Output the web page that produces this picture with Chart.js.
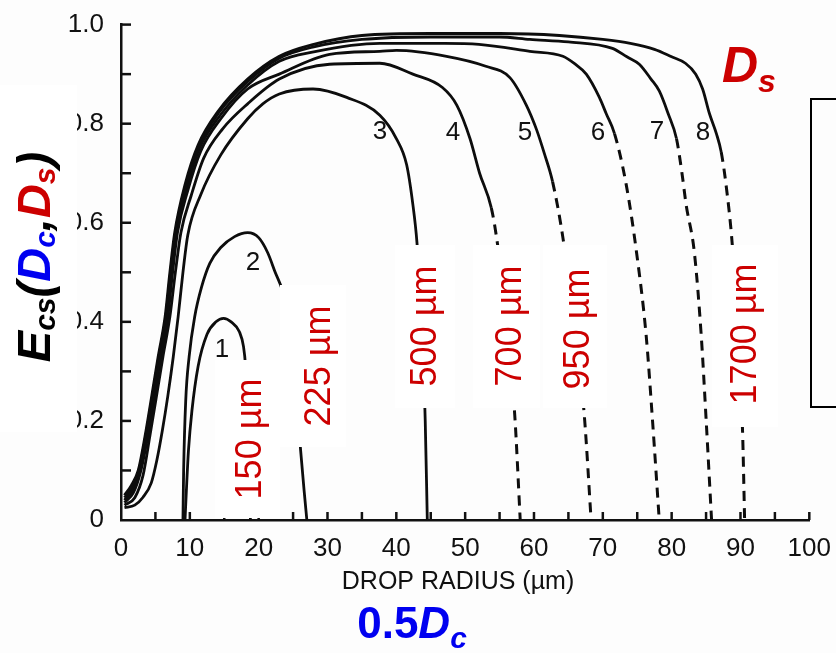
<!DOCTYPE html>
<html>
<head>
<meta charset="utf-8">
<script src="https://cdn.jsdelivr.net/npm/chart.js@4.4.1/dist/chart.umd.min.js"></script>
<style>
  body { margin: 0; background: #fff; }
  canvas { display: block; }
</style>
</head>
<body>
<canvas id="effChart" width="836" height="653"></canvas>
<script>
// collection efficiency vs drop radius, one curve per collector size
const curve1 = [[9.3,0],[9.5,0.06],[9.8,0.14],[10.3,0.22],[11.2,0.31],[12.5,0.375],[13.8,0.4],[14.9,0.407],[16,0.4],[17.2,0.38],[17.8,0.35],[18.1,0.31],[18.5,0.2],[18.8,0]];
const curve2 = [[9.0,0],[9.1,0.1],[9.4,0.24],[9.9,0.33],[10.7,0.41],[11.7,0.47],[12.9,0.518],[14.5,0.55],[16.5,0.572],[18.4,0.58],[20,0.57],[21.3,0.54],[22.4,0.5],[23.5,0.46],[24.5,0.38],[25.4,0.26],[26.1,0.14],[26.6,0.06],[27,0]];
const curve3 = [[0.5,0.025],[2,0.03],[3.2,0.046],[4.4,0.075],[5.2,0.12],[6,0.18],[6.8,0.25],[7.6,0.33],[8.3,0.41],[9,0.5],[9.7,0.575],[11.6,0.657],[14.5,0.737],[18.4,0.81],[20.6,0.84],[23,0.86],[27.9,0.87],[32.8,0.853],[37.6,0.817],[40,0.77],[41.5,0.717],[42.4,0.637],[43,0.56],[43.7,0.4],[44.2,0.2],[44.5,0]];
const curve4 = [[0.5,0.03],[2,0.045],[3.2,0.09],[4.2,0.17],[5.1,0.245],[6.1,0.33],[7.1,0.41],[7.9,0.5],[8.7,0.58],[10.2,0.655],[12,0.73],[14.8,0.79],[18.4,0.84],[23,0.89],[30.3,0.92],[37.6,0.922],[42.4,0.9],[46.7,0.873],[48.8,0.837],[50.7,0.77],[52.1,0.7],[53.8,0.63],[54.7,0.557],[56,0.4],[57.2,0.213],[58,0]];
const curve5 = [[0.5,0.035],[1.8,0.055],[2.9,0.1],[3.9,0.17],[4.8,0.245],[5.8,0.33],[6.8,0.41],[7.5,0.5],[8.2,0.58],[9.7,0.665],[11.6,0.745],[14.5,0.81],[18.4,0.87],[23,0.9],[30.3,0.94],[37.6,0.946],[40,0.948],[47.3,0.936],[53,0.916],[56.5,0.893],[58.9,0.837],[60.4,0.787],[61.5,0.74],[62.7,0.683],[64.2,0.57],[65.8,0.4],[67.3,0.213],[68.3,0]];
const curve6 = [[0.5,0.04],[1.7,0.06],[2.7,0.1],[3.7,0.17],[4.6,0.245],[5.6,0.33],[6.6,0.41],[7.3,0.5],[8,0.58],[9.5,0.67],[11.4,0.75],[14.3,0.815],[18.4,0.878],[23,0.926],[28,0.945],[37.6,0.962],[47,0.962],[52,0.96],[59.4,0.946],[64.2,0.936],[66,0.92],[67.6,0.9],[69.5,0.853],[70.5,0.82],[71.7,0.78],[73.4,0.677],[74.9,0.54],[76.3,0.372],[77.2,0.205],[78.2,0]];
const curve7 = [[0.5,0.045],[1.6,0.065],[2.6,0.1],[3.6,0.17],[4.5,0.245],[5.5,0.33],[6.5,0.41],[7.2,0.5],[7.9,0.58],[9.4,0.675],[11.3,0.755],[14.2,0.822],[18.4,0.885],[23,0.932],[28,0.955],[35,0.97],[45,0.975],[55,0.975],[59.4,0.97],[65,0.965],[71.4,0.952],[73.5,0.935],[75.3,0.92],[77,0.89],[78.2,0.866],[79.5,0.82],[80.7,0.77],[81.5,0.7],[82.1,0.637],[83.3,0.54],[84.3,0.372],[85,0.205],[85.8,0]];
const curve8 = [[0.5,0.05],[1.5,0.07],[2.5,0.1],[3.5,0.17],[4.4,0.245],[5.4,0.33],[6.4,0.41],[7.1,0.5],[7.8,0.58],[9.3,0.677],[11.2,0.757],[14.1,0.825],[18.4,0.89],[23,0.936],[28,0.96],[35,0.978],[45,0.982],[55,0.982],[63.7,0.978],[70,0.97],[74,0.962],[77.5,0.95],[80,0.935],[82,0.922],[83.5,0.9],[84.5,0.87],[85.5,0.82],[86.5,0.78],[87.2,0.743],[87.9,0.677],[88.8,0.557],[89.6,0.38],[90.3,0.18],[90.6,0]];

const curveNames = ['1','2','3','4','5','6','7','8'];
const collectorSizes = ['150 µm','225 µm','500 µm','700 µm','950 µm','1700 µm'];
// radius where each curve turns dashed (null = solid all the way)
const dashFrom = [null, null, null, 53.8, 62.7, 71.7, 80.7, 87.2];

const xTickLabels = ['0','10','20','30','40','50','60','70','80','90','100'];
const yTickLabels = ['0','0.2','0.4','0.6','0.8','1.0'];

const allCurves = [curve1, curve2, curve3, curve4, curve5, curve6, curve7, curve8];

const datasets = allCurves.map((c, i) => ({
    label: curveNames[i],
    data: c.map(p => ({x: p[0], y: p[1]})),
    borderColor: '#0d0d0d',
    borderWidth: 2.8,
    pointRadius: 0,
    fill: false,
    cubicInterpolationMode: 'monotone',
    segment: {
        borderDash: ctx => (dashFrom[i] !== null && ctx.p0.parsed.x >= dashFrom[i]) ? [10, 7] : undefined,
        borderWidth: ctx => (dashFrom[i] !== null && ctx.p0.parsed.x >= dashFrom[i]) ? 3 : 2.8
    }
}));

const tickFont = {family: '"Liberation Sans", Arial, sans-serif', size: 26};

// little helper for mixed font runs
function drawRuns(ctx, runs, x, y) {
    let cx = x;
    runs.forEach(r => {
        ctx.font = r.font;
        ctx.fillStyle = r.color;
        ctx.fillText(r.t, cx, y + (r.dy || 0));
        cx += ctx.measureText(r.t).width;
    });
    return cx - x;
}
function runsWidth(ctx, runs) {
    let w = 0;
    runs.forEach(r => { ctx.font = r.font; w += ctx.measureText(r.t).width; });
    return w;
}

const decorations = {
    id: 'decorations',
    beforeDraw(chart) {
        const ctx = chart.ctx;
        ctx.save();
        ctx.fillStyle = '#fdfdfd';
        ctx.fillRect(0, 0, chart.width, chart.height);
        ctx.restore();
    },
    afterDatasetsDraw(chart) {
        const ctx = chart.ctx;
        const xs = chart.scales.x, ys = chart.scales.y;
        ctx.save();

        // inward tick marks
        ctx.strokeStyle = '#111';
        ctx.lineWidth = 2.5;
        for (let v = 5; v <= 100; v += 5) {
            const px = xs.getPixelForValue(v);
            ctx.beginPath(); ctx.moveTo(px, ys.bottom); ctx.lineTo(px, ys.bottom - 8); ctx.stroke();
        }
        for (let i = 1; i <= 10; i++) {
            const py = ys.getPixelForValue(i / 10);
            ctx.beginPath(); ctx.moveTo(xs.left, py); ctx.lineTo(xs.left + 10, py); ctx.stroke();
        }

        // curve numbers
        ctx.fillStyle = '#111';
        ctx.font = '26px "Liberation Sans", Arial, sans-serif';
        ctx.textAlign = 'center';
        ctx.textBaseline = 'middle';
        const numPos = [[222,350],[253,263],[380,132],[453,133],[525,133],[598,133],[657,132],[703,133]];
        numPos.forEach((p, i) => ctx.fillText(curveNames[i], p[0], p[1]));

        // white boxes with rotated collector sizes
        const boxes = [[215,360,280,518],[280,285,346,447],[395,245,455,408],[473,245,540,408],[543,245,607,408],[712,245,778,427]];
        const centers = [[251,439],[320,366],[426,326],[511,326],[579,329],[746,334]];
        boxes.forEach((b, i) => {
            ctx.fillStyle = '#fff';
            ctx.fillRect(b[0], b[1], b[2] - b[0], b[3] - b[1]);
            ctx.save();
            ctx.translate(centers[i][0], centers[i][1]);
            ctx.rotate(-Math.PI / 2);
            ctx.fillStyle = '#cc0000';
            ctx.font = '36px "Liberation Sans", Arial, sans-serif';
            ctx.textAlign = 'center';
            ctx.textBaseline = 'middle';
            ctx.fillText(collectorSizes[i], 0, 0);
            ctx.restore();
        });

        // empty frame at the right edge
        ctx.strokeStyle = '#000';
        ctx.lineWidth = 2;
        ctx.strokeRect(811, 99, 40, 308);

        // y title box + rotated E_cs(D_c,D_s)
        ctx.fillStyle = '#fff';
        ctx.fillRect(0, 85, 77, 347);
        const big = 'italic bold 47px "Liberation Sans", Arial, sans-serif';
        const small = 'italic bold 30px "Liberation Sans", Arial, sans-serif';
        const yRuns = [
            {t:'E', font:big, color:'#000'},
            {t:'cs', font:small, color:'#000', dy:5},
            {t:'(', font:big, color:'#000'},
            {t:'D', font:big, color:'#0000f0'},
            {t:'c', font:small, color:'#0000f0', dy:5},
            {t:',', font:big, color:'#000'},
            {t:'D', font:big, color:'#cc0000'},
            {t:'s', font:small, color:'#cc0000', dy:5},
            {t:')', font:big, color:'#000'}
        ];
        ctx.textAlign = 'left';
        ctx.textBaseline = 'alphabetic';
        const yw = runsWidth(ctx, yRuns);
        ctx.save();
        ctx.translate(50, 257 + yw / 2);
        ctx.rotate(-Math.PI / 2);
        drawRuns(ctx, yRuns, 0, 0);
        ctx.restore();

        // x title
        ctx.fillStyle = '#111';
        ctx.font = '25px "Liberation Sans", Arial, sans-serif';
        ctx.textAlign = 'center';
        ctx.fillText('DROP RADIUS (µm)', 458, 589);

        // 0.5 D_c
        ctx.textAlign = 'left';
        const xRuns = [
            {t:'0.5', font:'bold 44px "Liberation Sans", Arial, sans-serif', color:'#0000f0'},
            {t:'D', font:'italic bold 44px "Liberation Sans", Arial, sans-serif', color:'#0000f0'},
            {t:'c', font:'italic bold 30px "Liberation Sans", Arial, sans-serif', color:'#0000f0', dy:10}
        ];
        const xw = runsWidth(ctx, xRuns);
        drawRuns(ctx, xRuns, 412 - xw / 2, 638);

        // D_s
        drawRuns(ctx, [
            {t:'D', font:'italic bold 50px "Liberation Sans", Arial, sans-serif', color:'#cc0000'},
            {t:'s', font:'italic bold 32px "Liberation Sans", Arial, sans-serif', color:'#cc0000', dy:10}
        ], 722, 82);

        ctx.restore();
    }
};

const ctx = document.getElementById('effChart').getContext('2d');
const chart = new Chart(ctx, {
    type: 'line',
    data: { datasets: datasets },
    options: {
        responsive: false,
        animation: false,
        layout: { padding: { left: 0, right: 26, top: 18, bottom: 0 } },
        plugins: { legend: { display: false }, tooltip: { enabled: false } },
        scales: {
            x: {
                type: 'linear', min: 0, max: 100,
                grid: { display: false },
                border: { display: true, color: '#111', width: 2.5 },
                ticks: {
                    stepSize: 5, autoSkip: false, maxRotation: 0, padding: 5,
                    color: '#111', font: tickFont,
                    callback: (v, i) => (i % 2 === 0 ? xTickLabels[i / 2] : '')
                },
                afterFit: s => { s.height = 133; }
            },
            y: {
                type: 'linear', min: 0, max: 1,
                grid: { display: false },
                border: { display: true, color: '#111', width: 2.5 },
                ticks: {
                    stepSize: 0.1, autoSkip: false, padding: 9,
                    color: '#111', font: tickFont,
                    callback: (v, i) => (i % 2 === 0 ? yTickLabels[i / 2] : '')
                },
                afterFit: s => { s.width = 121; }
            }
        }
    },
    plugins: [decorations]
});
</script>
</body>
</html>
